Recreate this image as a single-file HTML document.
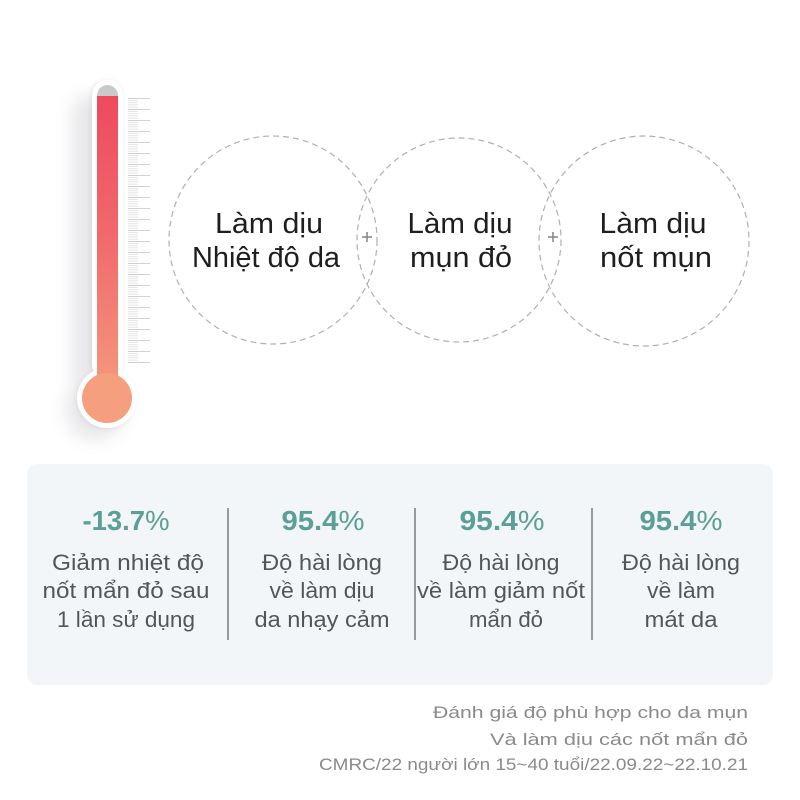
<!DOCTYPE html>
<html>
<head>
<meta charset="utf-8">
<style>
  html,body{margin:0;padding:0;background:#fff;}
  svg{display:block;}
  text{font-family:"Liberation Sans", "Noto Sans CJK SC", sans-serif;}
</style>
</head>
<body>
<svg width="800" height="800" viewBox="0 0 800 800" xmlns="http://www.w3.org/2000/svg">
  <defs>
    <linearGradient id="red" x1="0" y1="0" x2="0" y2="1">
      <stop offset="0" stop-color="#ee4a5e"/>
      <stop offset="0.5" stop-color="#f16a6c"/>
      <stop offset="1" stop-color="#f4977c"/>
    </linearGradient>
    <filter id="blur" x="-100%" y="-20%" width="300%" height="140%">
      <feGaussianBlur stdDeviation="8"/>
    </filter>
    <filter id="blur2" x="-50%" y="-10%" width="200%" height="120%">
      <feGaussianBlur stdDeviation="2"/>
    </filter>
    <pattern id="minor" x="128" y="98" width="30" height="2.2" patternUnits="userSpaceOnUse">
      <rect x="0" y="0" width="10" height="0.6" fill="#d2d2d2"/>
    </pattern>
    <pattern id="major" x="128" y="98" width="30" height="11" patternUnits="userSpaceOnUse">
      <rect x="0" y="0" width="22" height="0.8" fill="#c6c6c6"/>
    </pattern>
  </defs>

  <!-- Thermometer shadow -->
  <g opacity="0.22" filter="url(#blur)">
    <rect x="72" y="95" width="34" height="330" rx="17" fill="#9a9aa6"/>
    <circle cx="95" cy="410" r="30" fill="#9a9aa6"/>
  </g>
  <g opacity="0.15" filter="url(#blur2)">
    <rect x="90" y="80" width="33" height="300" rx="16" fill="#888"/>
    <circle cx="106" cy="399" r="30" fill="#888"/>
  </g>

  <!-- Thermometer body -->
  <rect x="92" y="80" width="31" height="300" rx="15.5" fill="#fff"/>
  <circle cx="107" cy="398" r="30" fill="#fff"/>
  <rect x="97" y="85" width="21" height="40" rx="10.5" fill="#c9c9c9"/>
  <rect x="97" y="96" width="21" height="290" fill="url(#red)"/>
  <circle cx="107" cy="398" r="25" fill="#f69f7e"/>

  <!-- ticks -->
  <rect x="128" y="98" width="22" height="266" fill="url(#minor)"/>
  <rect x="128" y="98" width="22" height="266" fill="url(#major)"/>

  <!-- Circles -->
  <g fill="none" stroke="#b0b0b0" stroke-width="1.2" stroke-dasharray="6 4">
    <circle cx="273" cy="240" r="104"/>
    <circle cx="459" cy="240" r="102"/>
    <circle cx="644" cy="241" r="105"/>
  </g>
  <!-- plus signs -->
  <g stroke="#8a8a8a" stroke-width="1.6">
    <line x1="362" y1="237" x2="372" y2="237"/>
    <line x1="367" y1="232" x2="367" y2="242"/>
    <line x1="548" y1="237" x2="558" y2="237"/>
    <line x1="553" y1="232" x2="553" y2="242"/>
  </g>

  <g fill="#1e1e1e" font-size="29" text-anchor="middle">
    <text x="269" y="233" textLength="108" lengthAdjust="spacingAndGlyphs">Làm dịu</text>
    <text x="266" y="267" textLength="148" lengthAdjust="spacingAndGlyphs">Nhiệt độ da</text>
    <text x="460" y="233" textLength="105" lengthAdjust="spacingAndGlyphs">Làm dịu</text>
    <text x="461" y="267" textLength="102" lengthAdjust="spacingAndGlyphs">mụn đỏ</text>
    <text x="653" y="233" textLength="107" lengthAdjust="spacingAndGlyphs">Làm dịu</text>
    <text x="656" y="267" textLength="112" lengthAdjust="spacingAndGlyphs">nốt mụn</text>
  </g>

  <!-- Panel -->
  <rect x="27" y="464" width="746" height="221" rx="10" fill="#f3f6f9"/>
  <g stroke="#7a7a7a" stroke-width="1.5">
    <line x1="228" y1="508" x2="228" y2="640"/>
    <line x1="415" y1="508" x2="415" y2="640"/>
    <line x1="592" y1="508" x2="592" y2="640"/>
  </g>

  <g fill="#5c9f96" font-size="28" font-weight="bold" text-anchor="middle">
    <text x="126" y="530" textLength="87" lengthAdjust="spacingAndGlyphs">-13.7<tspan font-weight="normal">%</tspan></text>
    <text x="323" y="530" textLength="83" lengthAdjust="spacingAndGlyphs">95.4<tspan font-weight="normal">%</tspan></text>
    <text x="502" y="530" textLength="85" lengthAdjust="spacingAndGlyphs">95.4<tspan font-weight="normal">%</tspan></text>
    <text x="681" y="530" textLength="83" lengthAdjust="spacingAndGlyphs">95.4<tspan font-weight="normal">%</tspan></text>
  </g>

  <g fill="#555" font-size="22" text-anchor="middle">
    <text x="128" y="570" textLength="152" lengthAdjust="spacingAndGlyphs">Giảm nhiệt độ</text>
    <text x="126" y="598" textLength="167" lengthAdjust="spacingAndGlyphs">nốt mẩn đỏ sau</text>
    <text x="126" y="627" textLength="138" lengthAdjust="spacingAndGlyphs">1 lần sử dụng</text>

    <text x="322" y="570" textLength="120" lengthAdjust="spacingAndGlyphs">Độ hài lòng</text>
    <text x="322" y="598" textLength="105" lengthAdjust="spacingAndGlyphs">về làm dịu</text>
    <text x="322" y="627" textLength="135" lengthAdjust="spacingAndGlyphs">da nhạy cảm</text>

    <text x="501" y="570" textLength="117" lengthAdjust="spacingAndGlyphs">Độ hài lòng</text>
    <text x="501" y="598" textLength="168" lengthAdjust="spacingAndGlyphs">về làm giảm nốt</text>
    <text x="506" y="627" textLength="74" lengthAdjust="spacingAndGlyphs">mẩn đỏ</text>

    <text x="681" y="570" textLength="118" lengthAdjust="spacingAndGlyphs">Độ hài lòng</text>
    <text x="681" y="598" textLength="68" lengthAdjust="spacingAndGlyphs">về làm</text>
    <text x="681" y="627" textLength="73" lengthAdjust="spacingAndGlyphs">mát da</text>
  </g>

  <!-- Footer -->
  <g fill="#8a8a8a" font-size="17" text-anchor="end">
    <text x="748" y="718" textLength="315" lengthAdjust="spacingAndGlyphs">Đánh giá độ phù hợp cho da mụn</text>
    <text x="748" y="745" textLength="258" lengthAdjust="spacingAndGlyphs">Và làm dịu các nốt mẩn đỏ</text>
    <text x="748" y="770" textLength="429" lengthAdjust="spacingAndGlyphs">CMRC/22 người lớn 15~40 tuổi/22.09.22~22.10.21</text>
  </g>
</svg>
</body>
</html>
